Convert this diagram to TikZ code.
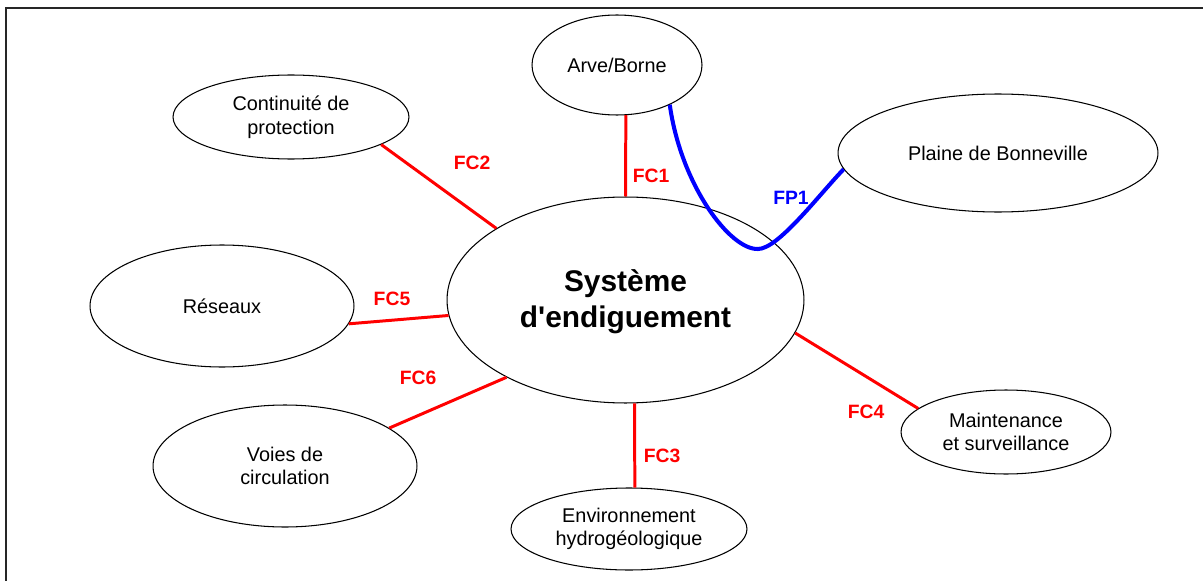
\documentclass[tikz,border=0pt]{standalone}
\usepackage{fontspec}
\setmainfont{Liberation Sans}[Ligatures=TeXOff]
\usetikzlibrary{shapes.geometric}

\begin{document}
\begin{tikzpicture}[x=0.02cm, y=-0.02cm, font=\fontsize{11.3}{13.5}\selectfont]
  \tikzstyle{bubble}=[draw, ellipse, inner sep=0pt, align=center, line width=0.6pt]
  \tikzstyle{core}=[bubble, minimum width=7.14cm, minimum height=4.12cm, font=\fontsize{17}{20.5}\selectfont\bfseries]
  \tikzstyle{fc}=[red, line width=1.7pt]
  \tikzstyle{fp}=[blue, line width=2.3pt]
  \tikzstyle{fclabel}=[text=red, font=\fontsize{11}{13}\selectfont\bfseries]
  \tikzstyle{fplabel}=[fclabel, text=blue]

  \useasboundingbox (0,0) rectangle (1203,581);

  % frame
  \draw[line width=1.1pt, black!85] (6,581) -- (6,8) -- (1203,8);

  % ------- nodes -------
  \node[core] (sys) at (625.5,300) {\rule{0pt}{14pt}Système\\d'endiguement};

  \node[bubble, minimum width=3.40cm, minimum height=2.00cm] (arve)    at (617,65)   {Arve/Borne};
  \node[bubble, minimum width=4.72cm, minimum height=1.68cm] (cont)    at (291,117)  {Continuité de\\protection};
  \node[bubble, minimum width=6.40cm, minimum height=2.36cm] (plaine)  at (998,153)  {Plaine de Bonneville};
  \node[bubble, minimum width=5.28cm, minimum height=2.44cm] (reseaux) at (222,306)  {Réseaux};
  \node[bubble, minimum width=5.28cm, minimum height=2.44cm] (voies)   at (285,466)  {Voies de\\circulation};
  \node[bubble, minimum width=4.72cm, minimum height=1.64cm] (env)     at (629,529)  {Environnement\\hydrogéologique};
  \node[bubble, minimum width=4.20cm, minimum height=1.68cm] (maint)   at (1006,432) {Maintenance\\et surveillance};

  % labels
  \node[fclabel] (lfc1) at (651,176) {FC1};
  \node[fclabel] (lfc2) at (472,163) {FC2};
  \node[fclabel] (lfc3) at (662,456) {FC3};
  \node[fclabel] (lfc4) at (866,412) {FC4};
  \node[fclabel] (lfc5) at (392,299) {FC5};
  \node[fclabel] (lfc6) at (418,378) {FC6};
  \node[fplabel] (lfp1) at (791,198) {FP1};

  % ------- connectors -------
  \draw[fc] (arve.-80) -- (sys.north);
  \draw[fc] (cont.-17) -- (sys.151);
  \draw[fc] (sys.-85) -- (env.82);
  \draw[fc] (sys.-11) -- (maint.165);
  \draw[fc] (reseaux.-8) -- (sys.-175);
  \draw[fc] (voies.20) -- (sys.-147);

  % principal function crossing the system
  \coordinate (fpdip) at (758,249);
  \draw[fp] (arve.-37) .. controls (681,185) and (730,250) .. (fpdip)
            .. controls (778,249) and (818,196) .. (plaine.-174);
\end{tikzpicture}
\end{document}
